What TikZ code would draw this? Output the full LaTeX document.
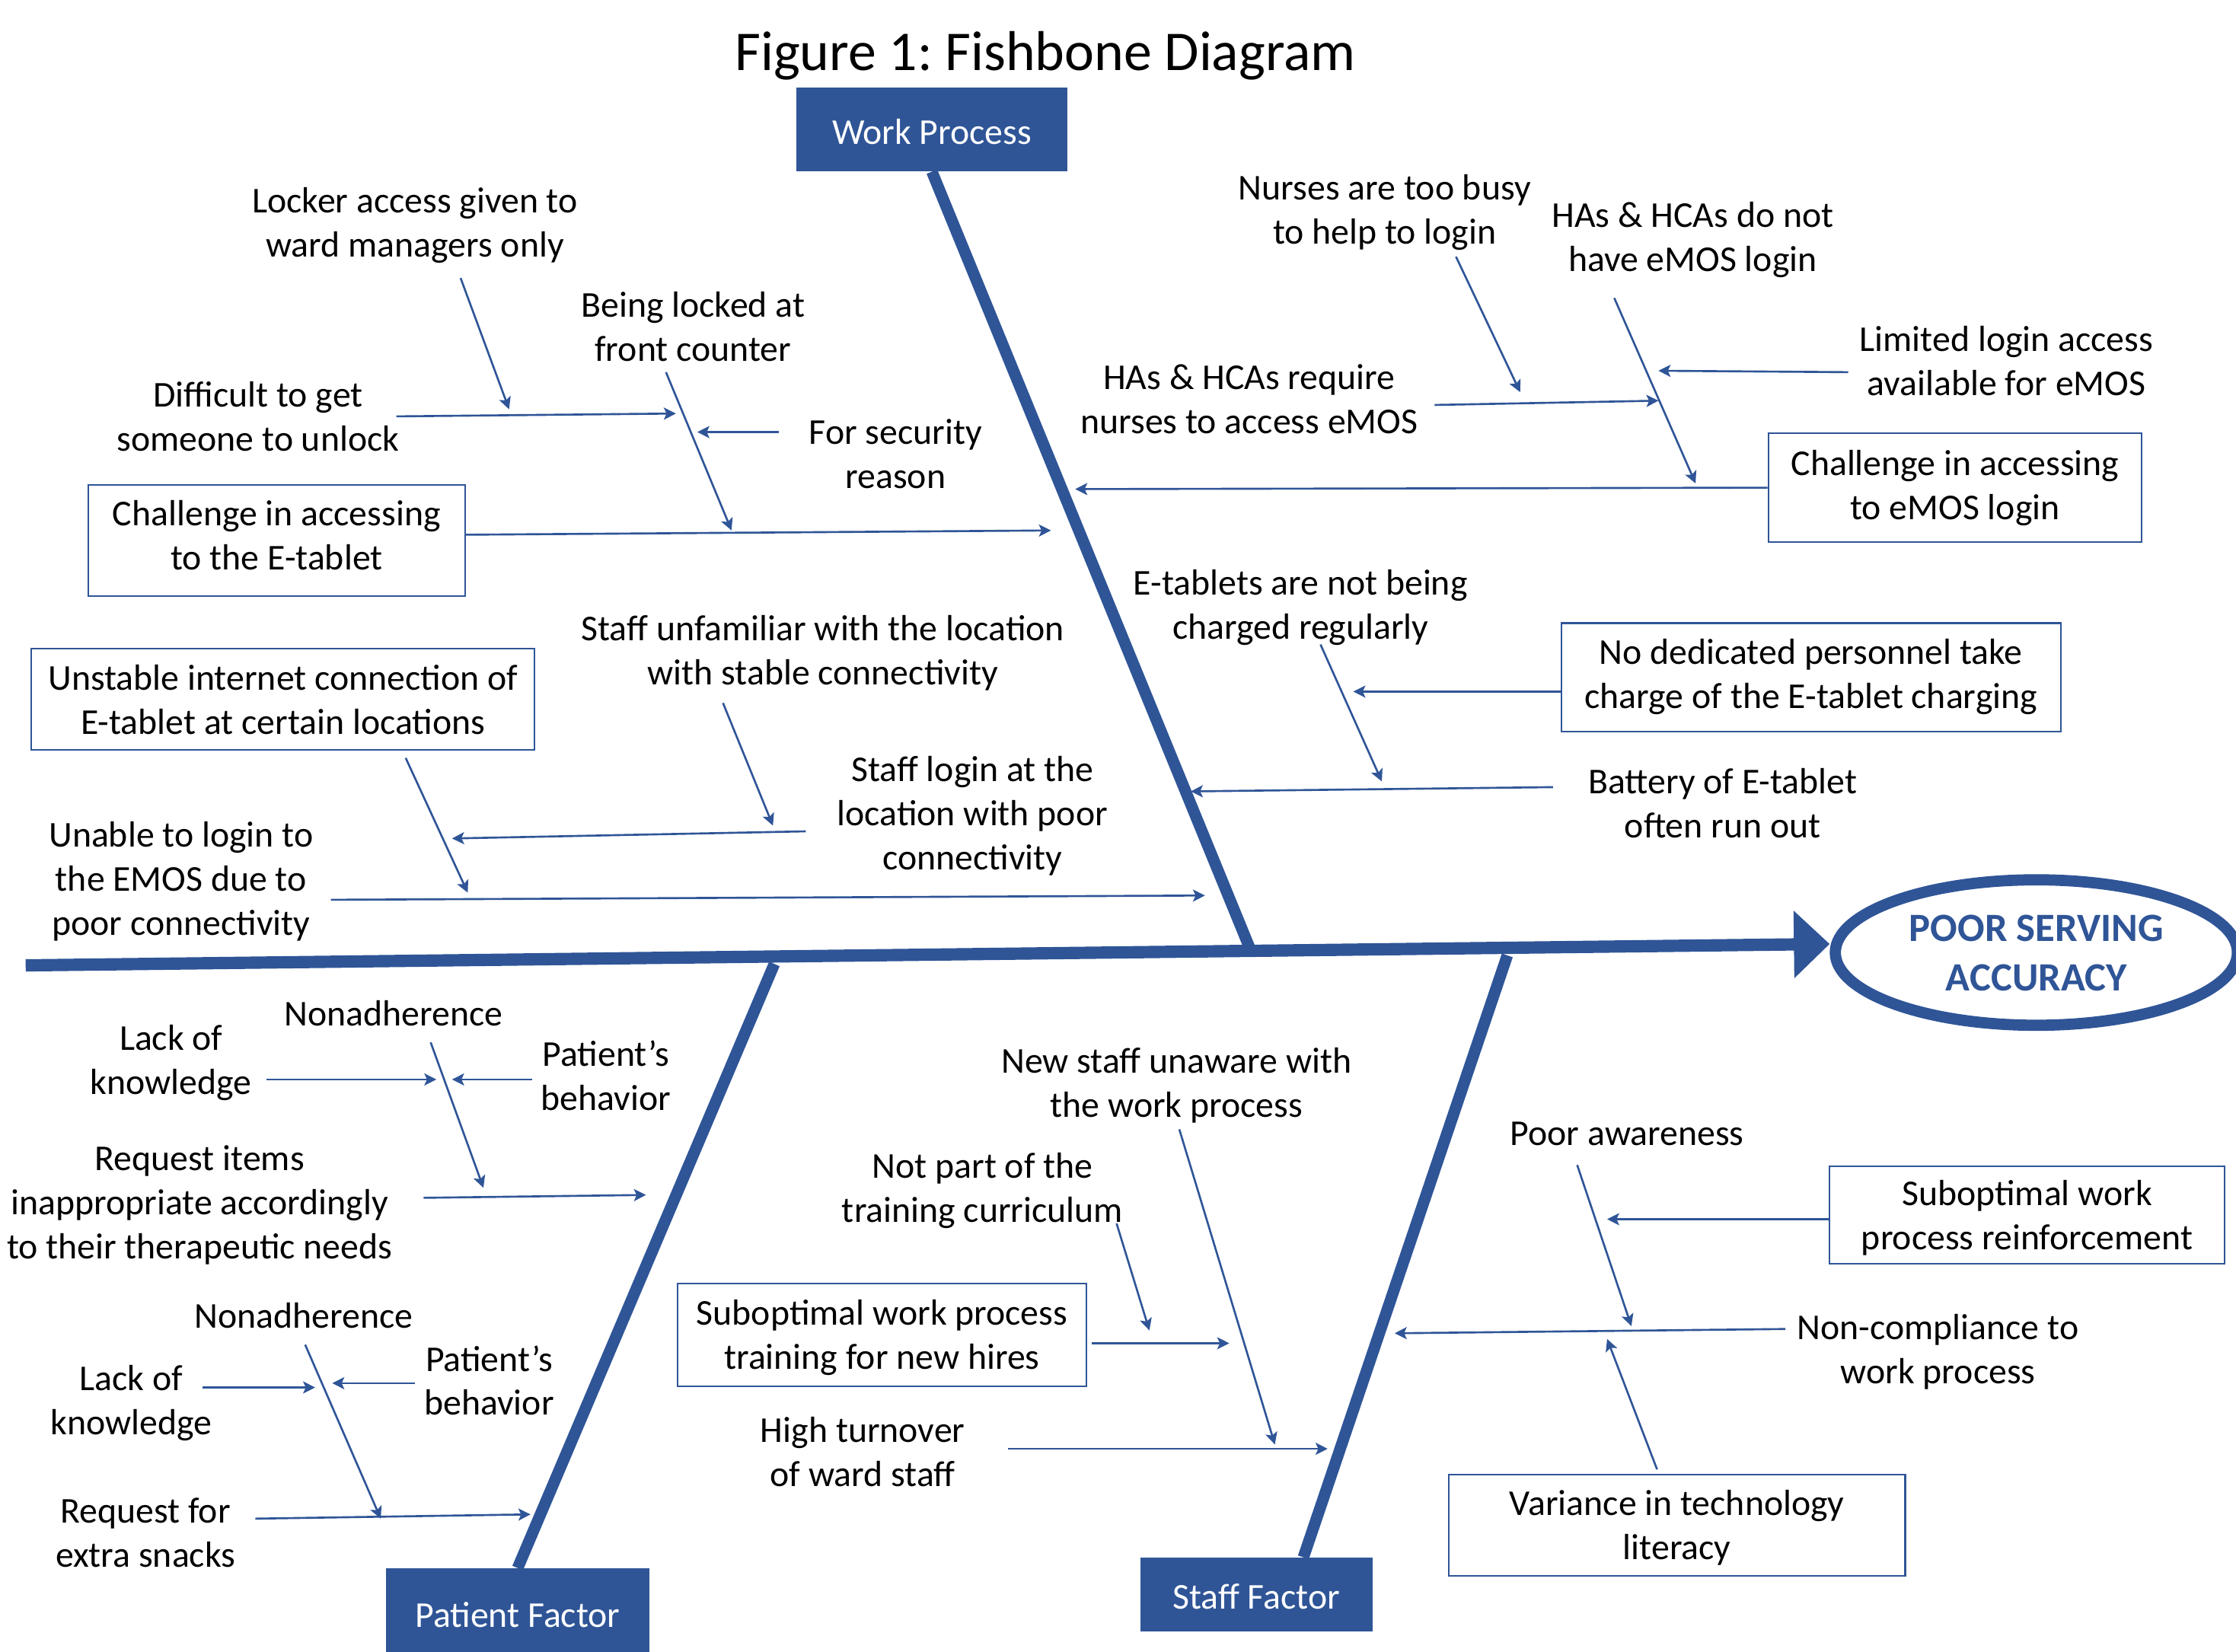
\documentclass[tikz,border=0pt]{standalone}
\usepackage{fontspec}
\setmainfont{Carlito}
\usepackage{tikz}
\usetikzlibrary{arrows.meta,shapes.geometric}
\definecolor{fbblue}{HTML}{2F5597}
\newcommand{\un}{0.018731cm}
\frenchspacing

\begin{document}
\begin{tikzpicture}[x=\un, y=-\un,
	every node/.style={font=\fontsize{13.6}{16.5}\selectfont, align=center, inner sep=1pt,
		execute at begin node={\rule{0pt}{0.655\baselineskip}}, text depth=0pt},
	box/.style={draw=fbblue, line width=0.6pt, inner sep=0pt},
	cat/.style={fill=fbblue, draw=fbblue, text=white, inner sep=0pt},
	bone/.style={draw=fbblue, line width=4.3pt},
	arr/.style={draw=fbblue, line width=0.75pt, -{Stealth[length=4.5pt,width=4.5pt,inset=1pt]}}]
	\useasboundingbox (0,0) rectangle (1568,1158);

	\node[font=\fontsize{21}{25}\selectfont](title) at (733,34){Figure 1: Fishbone Diagram};

	% heads and spine
	\node[cat, minimum width=189*\un, minimum height=58*\un](WP) at (653.5,91){Work Process};
	\node[cat, minimum width=184*\un, minimum height=62*\un](PF) at (363,1131){Patient Factor};
	\node[cat, minimum width=162*\un, minimum height=51*\un](SF) at (881,1118){Staff Factor};
	\node[ellipse, draw=fbblue, line width=4.2pt, inner sep=0pt, minimum width=282*\un, minimum height=102*\un,
		text=fbblue, font=\bfseries\fontsize{15}{18.5}\selectfont, text depth=-2pt](goal) at (1428,668){POOR SERVING\\ACCURACY};

	\coordinate (tail) at (18,677);
	\draw[bone, line width=4.6pt, -{Triangle[length=0.47cm,width=0.86cm]}] (tail) -- ([shift={(0,-6)}]goal.west);

	\coordinate (jw) at (876,664);
	\coordinate (jp) at (543,676);
	\coordinate (js) at (1057,670);
	\draw[bone] (WP.south) -- (jw);
	\draw[bone] (jp) -- (PF.north);
	\draw[bone] (js) -- ([shift={(33,0)}]SF.north);

	% work process, left
	\node(t1) at (291,156){Locker access given to\\ward managers only};
	\node(t2) at (486,229){Being locked at\\front counter};
	\node(t3) at (181,292){Difficult to get\\someone to unlock};
	\node(t4) at (628,318){For security\\reason};
	\node[box, text depth=4pt, minimum width=264*\un, minimum height=78*\un](B1) at (194,379){Challenge in accessing\\to the E-tablet};

	\coordinate (wp1) at (737,372);
	\coordinate (wp1a) at (357,287);
	\coordinate (wp1b) at (474,290);
	\coordinate (wp1c) at (489,303);
	\coordinate (wp1d) at (513,372);
	\draw[arr] ([shift={(32,39)}]t1.center) -- (wp1a);
	\draw[arr] ([shift={(97,0)}]t3.center) -- (wp1b);
	\draw[arr] ([shift={(-82,-15)}]t4.center) -- (wp1c);
	\draw[arr] ([shift={(-19,32)}]t2.center) -- (wp1d);
	\draw[arr] ([shift={(0,-4)}]B1.east) -- (wp1);

	% work process, right
	\node(t5) at (971,147){Nurses are too busy\\to help to login};
	\node(t6) at (1187,166){HAs \& HCAs do not\\have eMOS login};
	\node(t7) at (1407,253){Limited login access\\available for eMOS};
	\node(t8) at (876,280){HAs \& HCAs require\\nurses to access eMOS};
	\node[box, text depth=2pt, minimum width=262*\un, minimum height=76*\un](B2) at (1371,342){Challenge in accessing\\to eMOS login};

	\coordinate (wp2) at (754,343);
	\coordinate (wp2a) at (1066,275);
	\coordinate (wp2b) at (1163,281);
	\coordinate (wp2c) at (1163,260);
	\coordinate (wp2d) at (1189,339);
	\draw[arr] ([shift={(50,33)}]t5.center) -- (wp2a);
	\draw[arr] ([shift={(130,4)}]t8.center) -- (wp2b);
	\draw[arr] ([shift={(-111,8)}]t7.center) -- (wp2c);
	\draw[arr] ([shift={(-55,43)}]t6.center) -- (wp2d);
	\draw[arr] (B2.west) -- (wp2);

	% connectivity
	\node(t9) at (577,456){Staff unfamiliar with the location\\with stable connectivity};
	\node[box, minimum width=353*\un, minimum height=71*\un](B3) at (198.5,490.5){Unstable internet connection of\\E-tablet at certain locations};
	\node(t10) at (682,570){Staff login at the\\location with poor\\connectivity};
	\node(t11) at (127,616){Unable to login to\\the EMOS due to\\poor connectivity};

	\coordinate (wp3) at (845,628);
	\coordinate (wp3a) at (542,579);
	\coordinate (wp3b) at (317,588);
	\coordinate (wp3d) at (328,626);
	\draw[arr] ([shift={(-70,37)}]t9.center) -- (wp3a);
	\draw[arr] ([shift={(86,5)}]B3.south) -- (wp3d);
	\draw[arr] ([shift={(-117,13)}]t10.center) -- (wp3b);
	\draw[arr] ([shift={(105,15)}]t11.center) -- (wp3);

	% charging
	\node(t12) at (912,424){E-tablets are not being\\charged regularly};
	\node[box, text depth=3pt, minimum width=350*\un, minimum height=76*\un](B4) at (1270,475){No dedicated personnel take\\charge of the E-tablet charging};
	\node(t13) at (1208,563){Battery of E-tablet\\often run out};

	\coordinate (wp4) at (835,555);
	\coordinate (wp4b) at (949,485);
	\coordinate (wp4d) at (969,548);
	\draw[arr] ([shift={(14,28)}]t12.center) -- (wp4d);
	\draw[arr] ([shift={(0,10)}]B4.west) -- (wp4b);
	\draw[arr] ([shift={(-119,-11)}]t13.center) -- (wp4);

	% patient factor
	\node(t14) at (276,709){Nonadherence};
	\node(t15) at (120,743){Lack of\\knowledge};
	\node(t16) at (425,754){Patient’s\\behavior};
	\node(t17) at (140,843){Request items\\inappropriate accordingly\\to their therapeutic needs};
	\node(t18) at (213,921){Nonadherence};
	\node(t19) at (92,982){Lack of\\knowledge};
	\node(t20) at (343,968){Patient’s\\behavior};
	\node(t21) at (102,1075){Request for\\extra snacks};

	\coordinate (pf1) at (453,838);
	\coordinate (pf1b) at (306,757);
	\coordinate (pf1c) at (317,757);
	\coordinate (pf1d) at (339,833);
	\coordinate (pf2) at (372,1062);
	\coordinate (pf2b) at (221,973);
	\coordinate (pf2c) at (233,970);
	\coordinate (pf2d) at (267,1065);
	\draw[arr] ([shift={(67,14)}]t15.center) -- (pf1b);
	\draw[arr] ([shift={(-52,3)}]t16.center) -- (pf1c);
	\draw[arr] ([shift={(26,22)}]t14.center) -- (pf1d);
	\draw[arr] ([shift={(157,-3)}]t17.center) -- (pf1);
	\draw[arr] ([shift={(50,-9)}]t19.center) -- (pf2b);
	\draw[arr] ([shift={(-52,2)}]t20.center) -- (pf2c);
	\draw[arr] ([shift={(1,22)}]t18.center) -- (pf2d);
	\draw[arr] ([shift={(77,-10)}]t21.center) -- (pf2);

	% staff factor, training
	\node(t22) at (825,759){New staff unaware with\\the work process};
	\node(t23) at (689,833){Not part of the\\training curriculum};
	\node[box, minimum width=287*\un, minimum height=72*\un](B5) at (618.5,936){Suboptimal work process\\training for new hires};
	\node(t24) at (605,1018){High turnover\\of ward staff};

	\coordinate (sf1) at (931,1016);
	\coordinate (sf1a) at (806,933);
	\coordinate (sf1b) at (862,942);
	\coordinate (sf1d) at (894,1013);
	\draw[arr] ([shift={(2,33)}]t22.center) -- (sf1d);
	\draw[arr] ([shift={(94,25)}]t23.center) -- (sf1a);
	\draw[arr] ([shift={(3,6)}]B5.east) -- (sf1b);
	\draw[arr] ([shift={(102,-2)}]t24.center) -- (sf1);

	% staff factor, compliance
	\node(t25) at (1141,793){Poor awareness};
	\node[box, minimum width=277*\un, minimum height=68*\un](B6) at (1421.5,852){Suboptimal work\\process reinforcement};
	\node(t26) at (1359,946){Non-compliance to\\work process};
	\node[box, minimum width=320*\un, minimum height=71*\un](B7) at (1176,1069.5){Variance in technology\\literacy};

	\coordinate (sf2) at (978,935);
	\coordinate (sf2a) at (1127,855);
	\coordinate (sf2b) at (1127,939);
	\coordinate (sf2d) at (1144,930);
	\draw[arr] ([shift={(-35,24)}]t25.center) -- (sf2d);
	\draw[arr] ([shift={(0,3)}]B6.west) -- (sf2a);
	\draw[arr] ([shift={(-107,-14)}]t26.center) -- (sf2);
	\draw[arr] ([shift={(-14,-3)}]B7.north) -- (sf2b);
\end{tikzpicture}
\end{document}
